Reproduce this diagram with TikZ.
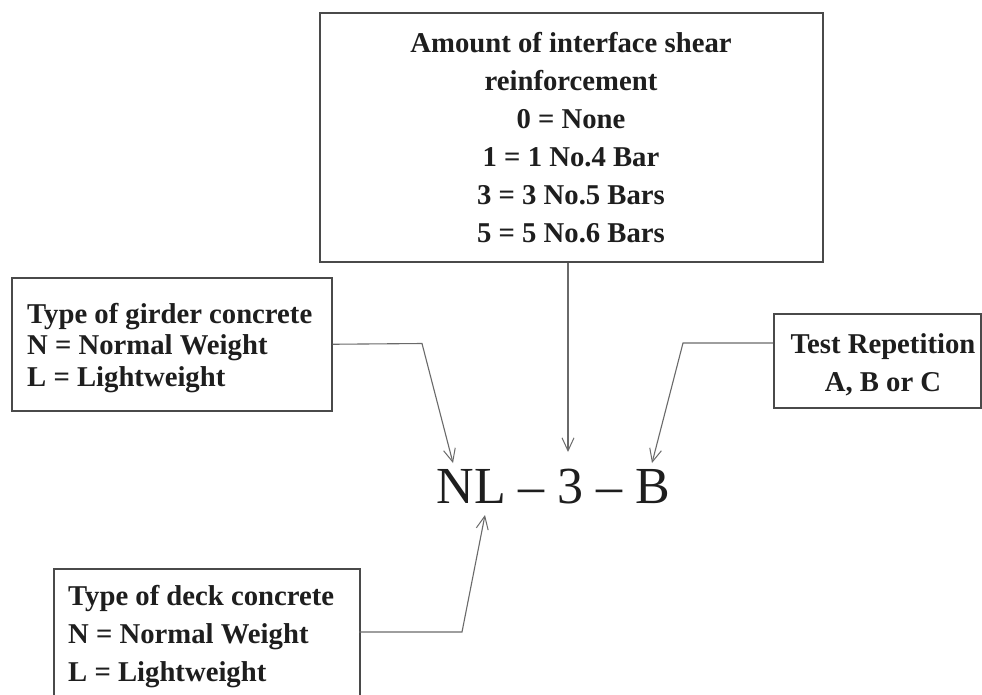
\documentclass[tikz,border=0pt]{standalone}
\usepackage{fontspec}
\setmainfont{Liberation Serif}
\usetikzlibrary{arrows.meta,calc}
\definecolor{boxline}{HTML}{4A4A4A}
\definecolor{conn}{HTML}{6A6A6A}
\definecolor{ink}{HTML}{1E1E1E}
\begin{document}
\begin{tikzpicture}[x=1pt,y=-1pt,
  frame/.style={draw=boxline,line width=1.5pt,rectangle,inner sep=0pt,anchor=north west},
  txt/.style={text=ink,inner sep=0pt,font=\bfseries\fontsize{28.7}{38}\selectfont},
  conn/.style={draw=conn,line width=1.1pt,-{Straight Barb[length=13pt,width=12pt,line width=1pt]}},
  code/.style={text=ink,inner sep=0pt,font=\fontsize{52}{60}\selectfont,anchor=base}]
\useasboundingbox (0,0) rectangle (982,694);
\fill[white] (0,0) rectangle (982,694);
% frames
\node[frame,minimum width=503pt,minimum height=249pt] (amount) at (319,12) {};
\node[frame,minimum width=320pt,minimum height=133pt] (girder) at (11,277) {};
\node[frame,minimum width=207pt,minimum height=94pt] (rep) at (773,313) {};
\node[frame,minimum width=306pt,minimum height=160pt] (deck) at (53,568) {};
% texts
\node[txt,align=center,anchor=north] (amountT) at (571,32) {Amount of interface shear\\reinforcement\\0 = None\\1 = 1 No.4 Bar\\3 = 3 No.5 Bars\\5 = 5 No.6 Bars};
\node[txt,align=left,anchor=north west,font=\bfseries\fontsize{28.7}{31.5}\selectfont] (girderT) at (27,303) {Type of girder concrete\\N = Normal Weight\\L = Lightweight};
\node[txt,align=center,anchor=north] (repT) at (883,333) {Test Repetition\\A, B or C};
\node[txt,align=left,anchor=north west] (deckT) at (68,585) {Type of deck concrete\\N = Normal Weight\\L = Lightweight};
% designation
\node[code] (codeT) at (553.5,503) {NL -- 3 -- B};
% arrow tips and bends
\coordinate (tipN) at (453,463);
\coordinate (tipL) at (485,515);
\coordinate (tip3) at (568,452);
\coordinate (tipB) at (652,463);
\coordinate (bendG) at (422,343.5);
\coordinate (bendR) at (683,343);
\coordinate (startR) at (773,343);
\coordinate (bendD) at (462,632);
\coordinate (startD) at (359,632);
% connectors
\draw[conn] (girder.east) -- (bendG) -- (tipN);
\draw[conn] (amount.south -| tip3) -- (tip3);
\draw[conn] (startR) -- (bendR) -- (tipB);
\draw[conn] (startD) -- (bendD) -- (tipL);
\end{tikzpicture}
\end{document}
